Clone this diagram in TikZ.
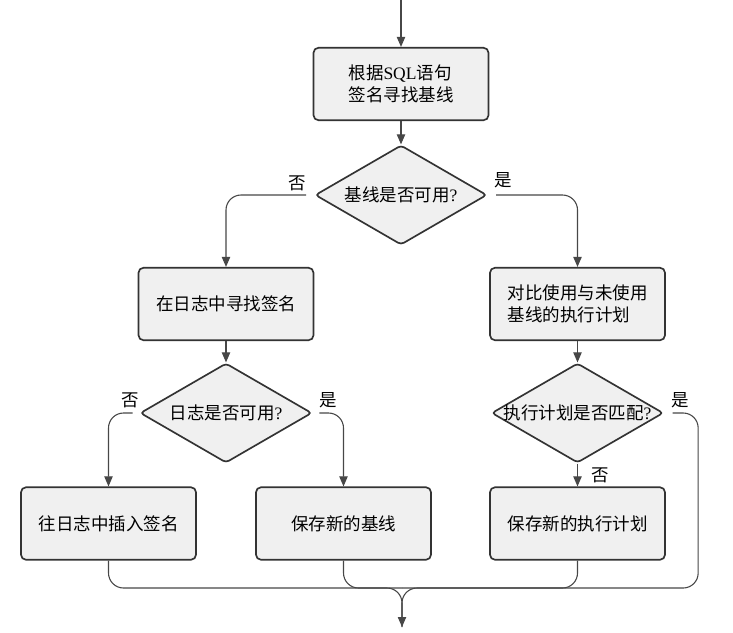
\documentclass[tikz,border=0pt]{standalone}
\usepackage{fontspec}
\setmainfont{Noto Sans CJK SC}
\newfontfamily\latin{Liberation Serif}
\usetikzlibrary{shapes.geometric,arrows.meta,positioning}

\begin{document}
\begin{tikzpicture}[x=0.6pt, y=-0.6pt, font=\fontsize{10.5}{13.5}\selectfont,
    box/.style={draw=black!80, line width=1pt, fill=black!6, rounded corners=3pt,
        minimum width=105pt, minimum height=43.5pt, inner sep=2pt},
    ask/.style={draw=black!80, line width=1pt, fill=black!6, shape=diamond,
        rounded corners=2pt, inner sep=0pt, minimum width=103pt, minimum height=51pt},
    flow/.style={draw=black!72, line width=0.65pt, rounded corners=9pt,
        -{Triangle[length=6pt,width=5pt]}},
    link/.style={draw=black!72, line width=0.65pt, rounded corners=9pt},
    tag/.style={inner sep=2pt}]
        \useasboundingbox (0,0) rectangle (733,632);
        \coordinate (start) at (401,0);
        \coordinate (merge) at (402,588);
        \coordinate (end) at (402,627);

        % steps and questions
        \node[box, align=left] (sql) at (401,84) {根据{\latin SQL}语句\\签名寻找基线};
        \node[ask] (base) at (401,195) {\makebox[50pt]{基线是否可用{\latin ?}}};
        \node[box] (log) at (226,304) {在日志中寻找签名};
        \node[box, align=left] (plan) at (577.5,304) {对比使用与未使用\\基线的执行计划};
        \node[ask] (logq) at (226,413) {\makebox[50pt]{日志是否可用{\latin ?}}};
        \node[ask] (planq) at (577.5,413) {\makebox[50pt]{执行计划是否匹配{\latin ?}}};
        \node[box] (insert) at (108.5,523.5) {往日志中插入签名};
        \node[box] (savebase) at (343.5,523.5) {保存新的基线};
        \node[box] (saveplan) at (577.5,523.5) {保存新的执行计划};

        \draw[flow] (start) -- (sql);
        \draw[flow] (sql) -- (base);
        \draw[flow, shorten <=5pt] (base.west) -| (log.north);
        \node[tag] (no1) at (297,183) {否};
        \draw[flow, shorten <=5pt] (base.east) -| (plan.north);
        \node[tag] (yes1) at (503,180) {是};

        \draw[flow] (log) -- (logq);
        \draw[flow] (plan) -- (planq);
        \draw[flow, shorten <=4pt] (logq.west) -| (insert.north);
        \node[tag] (no2) at (130,400) {否};
        \draw[flow, shorten <=4pt] (logq.east) -| (savebase.north);
        \node[tag] (yes2) at (328,400) {是};
        \draw[flow] (planq) -- (saveplan) node[tag, pos=0.5, right=6pt] (no3) {否};
        \node[tag] (yes3) at (680,400) {是};

        % back together
        \draw[flow] (insert.south) |- (merge) -- (end);
        \draw[link] (savebase.south) |- (merge);
        \draw[link] (saveplan.south) |- (merge);
        \draw[link, shorten <=5pt] (planq.east) -- ++(34,0) |- (merge) -- (end);
    \end{tikzpicture}
\end{document}
